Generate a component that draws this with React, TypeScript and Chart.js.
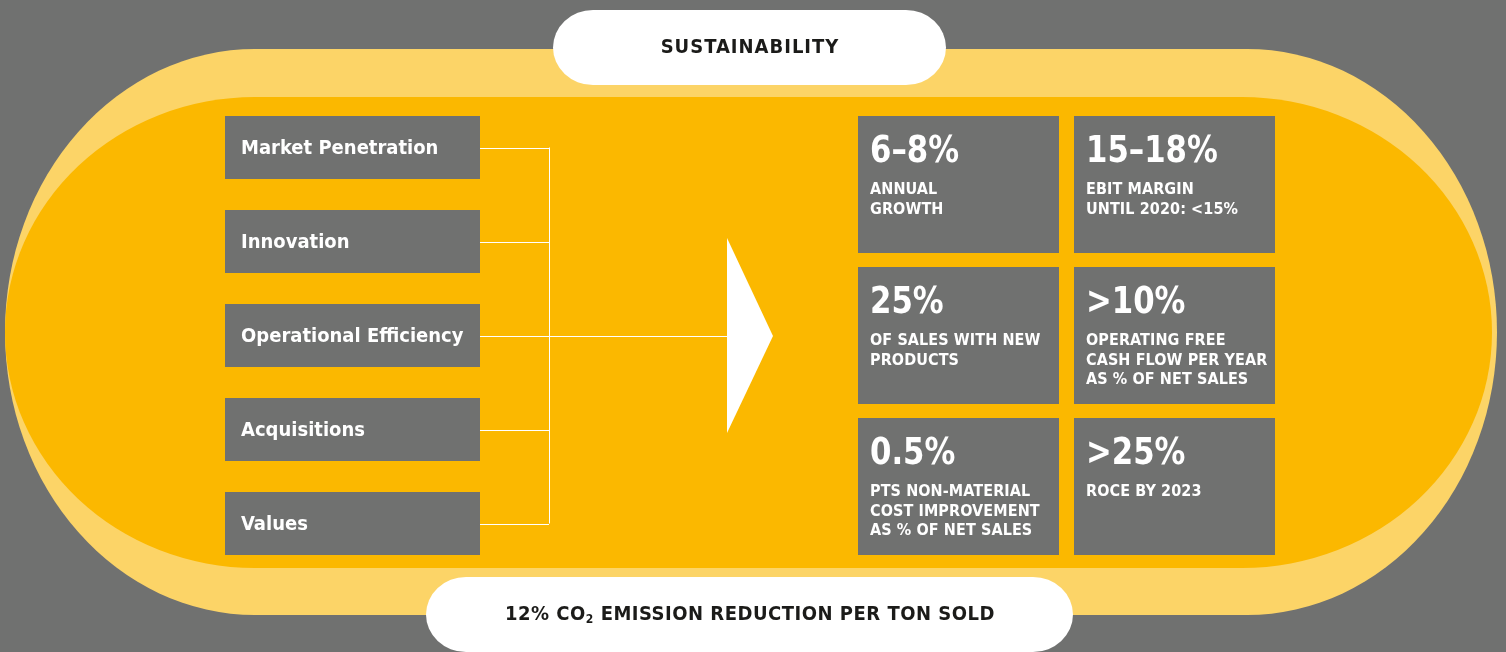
import React, { useEffect, useRef } from "react";
import { Chart, registerables } from "chart.js";

Chart.register(...registerables);

// ---------- data (text content) ----------
const topBanner = "SUSTAINABILITY";
const bottomBannerPre = "12% CO";
const bottomBannerSub = "2";
const bottomBannerPost = " EMISSION REDUCTION PER TON SOLD";
const pillars = ["Market Penetration", "Innovation", "Operational Efficiency", "Acquisitions", "Values"];
const kpiValues = ["6–8%", "15–18%", "25%", ">10%", "0.5%", ">25%"];
const kpiLabels = [
  ["ANNUAL", "GROWTH"],
  ["EBIT MARGIN", "UNTIL 2020: <15%"],
  ["OF SALES WITH NEW", "PRODUCTS"],
  ["OPERATING FREE", "CASH FLOW PER YEAR", "AS % OF NET SALES"],
  ["PTS NON-MATERIAL", "COST IMPROVEMENT", "AS % OF NET SALES"],
  ["ROCE BY 2023"],
];

// ---------- layout & style ----------
const W = 1506;
const H = 652;
const GRAY = "#707170";
const DARK_Y = "#FBB800";
const LIGHT_Y = "#FCD467";
const INK = "#1b1b19";
const FONT = '"DejaVu Sans Condensed", "Liberation Sans Narrow", sans-serif';

function drawScaled(ctx: CanvasRenderingContext2D, text: string, x: number, y: number, sx: number) {
  ctx.save();
  ctx.translate(x, y);
  ctx.scale(sx, 1);
  ctx.fillText(text, 0, 0);
  ctx.restore();
}

const diagramPlugin = {
  id: "diagram",
  beforeDatasetsDraw(chart: any) {
    const ctx: CanvasRenderingContext2D = chart.ctx;
    const xs = chart.scales.x;
    const ys = chart.scales.y;
    const X = (v: number) => xs.getPixelForValue(v);
    const Y = (v: number) => ys.getPixelForValue(v);

    ctx.save();
    // background
    ctx.fillStyle = GRAY;
    ctx.fillRect(X(0), Y(0), X(W) - X(0), Y(H) - Y(0));

    const capsule = (x0: number, y0: number, x1: number, y1: number, rx: number, ry: number) => {
      const a = X(x0), b = Y(y0), c = X(x1), d = Y(y1);
      const rX = X(x0 + rx) - a, rY = Y(y0 + ry) - b;
      ctx.beginPath();
      ctx.moveTo(a + rX, b);
      ctx.lineTo(c - rX, b);
      ctx.ellipse(c - rX, b + rY, rX, rY, 0, -Math.PI / 2, 0);
      ctx.lineTo(c, d - rY);
      ctx.ellipse(c - rX, d - rY, rX, rY, 0, 0, Math.PI / 2);
      ctx.lineTo(a + rX, d);
      ctx.ellipse(a + rX, d - rY, rX, rY, 0, Math.PI / 2, Math.PI);
      ctx.lineTo(a, b + rY);
      ctx.ellipse(a + rX, b + rY, rX, rY, 0, Math.PI, Math.PI * 1.5);
      ctx.closePath();
    };

    // outer light yellow
    ctx.fillStyle = LIGHT_Y;
    capsule(5, 49, 1497, 615, 250, 283);
    ctx.fill();
    // inner dark yellow
    ctx.fillStyle = DARK_Y;
    capsule(5, 97, 1492, 568, 250, 235.5);
    ctx.fill();

    // white pills
    ctx.fillStyle = "#ffffff";
    capsule(553, 10, 946, 85, 40, 37.5);
    ctx.fill();
    capsule(426, 577, 1073, 652, 40, 37.5);
    ctx.fill();

    ctx.fillStyle = INK;
    ctx.textBaseline = "alphabetic";
    ctx.textAlign = "center";
    ctx.font = `bold 20px ${FONT}`;
    (ctx as any).letterSpacing = "1px";
    ctx.fillText(topBanner, X(750), Y(53));

    // bottom banner with subscript
    ctx.textAlign = "left";
    (ctx as any).letterSpacing = "0.5px";
    ctx.font = `bold 20px ${FONT}`;
    const w1 = ctx.measureText(bottomBannerPre).width;
    const w3 = ctx.measureText(bottomBannerPost).width;
    ctx.font = `bold 12px ${FONT}`;
    const w2 = ctx.measureText(bottomBannerSub).width;
    const total = w1 + w2 + w3;
    let sx = X(750) - total / 2;
    ctx.font = `bold 20px ${FONT}`;
    ctx.fillText(bottomBannerPre, sx, Y(620));
    sx += w1;
    ctx.font = `bold 12px ${FONT}`;
    ctx.fillText(bottomBannerSub, sx, Y(623));
    sx += w2;
    ctx.font = `bold 20px ${FONT}`;
    ctx.fillText(bottomBannerPost, sx, Y(620));
    (ctx as any).letterSpacing = "0px";

    // left pillar boxes
    const boxTop0 = 116, boxH = 63, boxGap = 94;
    const bx0 = 225, bx1 = 480, joinX = 549;
    ctx.strokeStyle = "#ffffff";
    ctx.lineWidth = 1;
    pillars.forEach((label, i) => {
      const t = boxTop0 + i * boxGap;
      ctx.fillStyle = GRAY;
      ctx.fillRect(X(bx0), Y(t), X(bx1) - X(bx0), Y(t + boxH) - Y(t));
      ctx.fillStyle = "#ffffff";
      ctx.font = `bold 20px ${FONT}`;
      ctx.textAlign = "left";
      ctx.textBaseline = "middle";
      ctx.fillText(label, X(241), Y(t + boxH / 2 + 1));
      const cy = t + boxH / 2;
      ctx.beginPath();
      ctx.moveTo(X(bx1), Math.round(Y(cy)) + 0.5);
      ctx.lineTo(X(joinX), Math.round(Y(cy)) + 0.5);
      ctx.stroke();
    });
    const firstC = boxTop0 + boxH / 2;
    const lastC = boxTop0 + (pillars.length - 1) * boxGap + boxH / 2;
    const midC = (firstC + lastC) / 2;
    ctx.beginPath();
    ctx.moveTo(Math.round(X(joinX)) + 0.5, Y(firstC));
    ctx.lineTo(Math.round(X(joinX)) + 0.5, Y(lastC));
    ctx.moveTo(X(joinX), Math.round(Y(midC)) + 0.5);
    ctx.lineTo(X(728), Math.round(Y(midC)) + 0.5);
    ctx.stroke();

    // arrow
    ctx.fillStyle = "#ffffff";
    ctx.beginPath();
    ctx.moveTo(X(727), Y(238));
    ctx.lineTo(X(773), Y(336));
    ctx.lineTo(X(727), Y(433));
    ctx.closePath();
    ctx.fill();

    // KPI grid
    const colX = [858, 1074];
    const rowY = [116, 267, 418];
    const cw = 201, ch = 137;
    kpiValues.forEach((val, i) => {
      const cx = colX[i % 2];
      const ry = rowY[Math.floor(i / 2)];
      ctx.fillStyle = GRAY;
      ctx.fillRect(X(cx), Y(ry), X(cx + cw) - X(cx), Y(ry + ch) - Y(ry));
      ctx.fillStyle = "#ffffff";
      ctx.textAlign = "left";
      ctx.textBaseline = "alphabetic";
      ctx.font = `bold 38px ${FONT}`;
      drawScaled(ctx, val, X(cx + 12), Y(ry + 46), 0.9);
      ctx.font = `bold 16px ${FONT}`;
      (ctx as any).letterSpacing = "0.1px";
      kpiLabels[i].forEach((line, j) => {
        ctx.fillText(line, X(cx + 12), Y(ry + 78 + j * 19.5));
      });
      (ctx as any).letterSpacing = "0px";
    });

    ctx.restore();
  },
};

export default function App() {
  const ref = useRef<HTMLCanvasElement>(null);
  useEffect(() => {
    if (!ref.current) return;
    const chart = new Chart(ref.current, {
      type: "scatter",
      data: { datasets: [{ data: [], pointRadius: 0 }] },
      options: {
        animation: false,
        responsive: false,
        devicePixelRatio: 1,
        layout: { padding: 0 },
        plugins: { legend: { display: false }, tooltip: { enabled: false } },
        scales: {
          x: { type: "linear", min: 0, max: W, display: false },
          y: { type: "linear", min: 0, max: H, reverse: true, display: false },
        },
      },
      plugins: [diagramPlugin],
    });
    return () => chart.destroy();
  }, []);
  return (
    <div style={{ position: "absolute", left: 0, top: 0, width: W, height: H, background: GRAY }}>
      <canvas ref={ref} width={W} height={H} style={{ display: "block" }} />
    </div>
  );
}
